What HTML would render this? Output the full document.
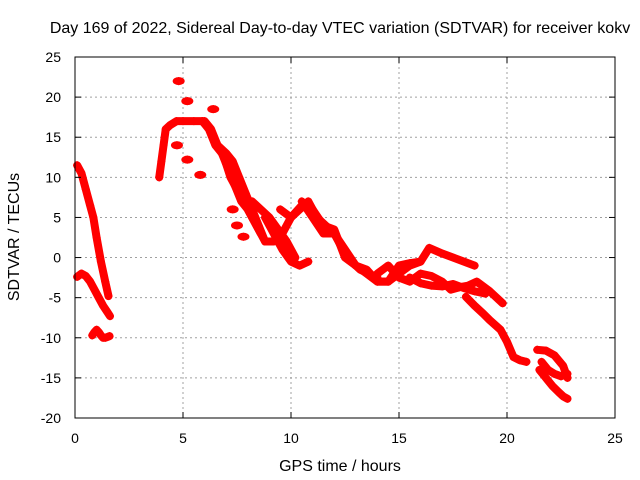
<!DOCTYPE html>
<html><head><meta charset="utf-8"><style>
body{margin:0;background:#fff;}
svg{display:block;font-family:"Liberation Sans",sans-serif;}
</style></head><body>
<svg id="chart" width="640" height="480">
<text x="340" y="33" text-anchor="middle" font-size="16">Day 169 of 2022, Sidereal Day-to-day VTEC variation (SDTVAR) for receiver kokv</text>
<text x="340" y="471" text-anchor="middle" font-size="16">GPS time / hours</text>
<text transform="translate(19,237) rotate(-90)" text-anchor="middle" font-size="16">SDTVAR / TECUs</text>
<g id="grid"></g><g id="marks"></g><g id="axes"></g>
</svg>
<script>
const xTicks=[0,5,10,15,20,25];
const yTicks=[-20,-15,-10,-5,0,5,10,15,20,25];
const tA=[0.1,0.3,0.5,0.7,0.85,1.0,1.2,1.4,1.55];
const vA=[11.5,10.5,8.5,6.5,5,2.5,-0.5,-3,-4.8];
const tB=[0.1,0.3,0.5,0.7,0.9,1.1,1.3,1.5,1.62];
const vB=[-2.4,-2,-2.3,-3,-4,-5,-6,-6.8,-7.3];
const tC=[0.8,0.9,1.0,1.1,1.2,1.3,1.4,1.5,1.6];
const vC=[-9.7,-9.3,-9,-9.3,-9.7,-10,-10,-9.9,-9.8];
const tD=[3.9,4.0,4.1,4.2,4.4,4.7,5.0,5.5,6.0,6.3,6.6,6.9,7.2,7.5,7.8,8.1,8.4,8.8,9.2,9.6,10.0,10.4,10.8,11.2,11.6,12.0,12.4,12.8,13.2,13.6,14.0];
const vD=[10,12,14,16,16.5,17,17,17,17,16,14,12.5,10,8.5,7,5.5,4,2,2,3,5,6,7,5,4,3,1,-0.5,-1.5,-2,-2.5];
const tE=[5.9,6.2,6.5,6.8,7.1,7.4,7.7,8.0,8.3,8.6];
const vE=[17,16,14,13,11,9,7,6,4.5,3];
const tF=[6.6,7.0,7.3,7.6,7.9,8.2,8.5,8.8];
const vF=[14,13,12,10,8,6,4,2];
const tG=[8.8,9.2,9.6,10,10.4,10.8];
const vG=[5,3,1,-0.5,-1,-0.5];
const tH=[9.5,10,10.5,11,11.5,12,12.5,13];
const vH=[6,5,6.5,6,4,3.5,0,-1];
const tI=[10.5,11,11.5,12,12.5,13,13.5,14,14.5,15,15.5,16];
const vI=[7,5,3,3,1,-1,-1.5,-3,-3,-2,-1,-0.5];
const tJ=[13,13.5,14,14.5,15,15.5,16,16.4,17,17.5,18.1,18.5];
const vJ=[-1,-2,-3,-3,-1,-0.7,-0.5,1.2,0.5,0,-0.6,-1];
const tK=[14,14.5,15,15.5,16,16.5,17,17.4,17.8,18.2,18.6,19.2,19.8];
const vK=[-2,-1,-2.5,-3,-2,-2.3,-3,-4,-3.7,-3.5,-3,-4.2,-5.7];
const tL=[18.1,18.5,18.9,19.2,19.7,20.0,20.3,20.6,20.9];
const vL=[-4.9,-6,-7,-7.8,-9,-10.5,-12.4,-12.8,-13];
const tM=[21.4,21.8,22.2,22.6,22.8];
const vM=[-11.5,-11.6,-12.2,-13.5,-15];
const tN=[21.5,21.8,22.1,22.4,22.6,22.8];
const vN=[-14,-15,-16,-16.8,-17.3,-17.6];
const tO=[15.5,16,16.5,17,17.5,18,18.5,19];
const vO=[-2.5,-3.2,-3.5,-3.6,-3.3,-3.8,-4.2,-4.5];
const tP=[21.6,21.9,22.2,22.5,22.8];
const vP=[-13,-14,-14.5,-14.8,-14.5];
const tQ=[8.2,8.6,9.0,9.4,9.8,10.2];
const vQ=[7,6,5,3.5,2,0];
const isoT=[4.8,5.2,4.72,5.8,5.2,6.4,7.3,7.5,7.8];
const isoV=[22,19.5,14,10.3,12.2,18.5,6,4,2.6];
const tracks=[[tA,vA],[tB,vB],[tC,vC],[tD,vD],[tE,vE],[tF,vF],[tG,vG],[tH,vH],[tI,vI],[tJ,vJ],[tK,vK],[tL,vL],[tM,vM],[tN,vN],[tO,vO],[tP,vP],[tQ,vQ]];
const X0=75,X1=615,Y0=418,Y1=57;
const sx=t=>X0+(t-0)/(25-0)*(X1-X0);
const sy=v=>Y0-(v+20)/45*(Y0-Y1);
const NS='http://www.w3.org/2000/svg';
function mk(tag,attrs,parent){const e=document.createElementNS(NS,tag);for(const k in attrs)e.setAttribute(k,attrs[k]);parent.appendChild(e);return e;}
const grid=document.getElementById('grid'),marks=document.getElementById('marks'),axes=document.getElementById('axes');
xTicks.forEach(t=>{
 if(t>0&&t<25){const g=mk('line',{x1:sx(t),x2:sx(t),y1:Y1,y2:Y0,stroke:'#a0a0a0','stroke-dasharray':'2,3'},grid);
 
 }
 mk('line',{x1:sx(t),x2:sx(t),y1:Y0,y2:Y0-6,stroke:'#000'},axes);
 mk('line',{x1:sx(t),x2:sx(t),y1:Y1,y2:Y1+6,stroke:'#000'},axes);
 const l=mk('text',{x:sx(t),y:443,'text-anchor':'middle','font-size':14},axes);l.textContent=t;
 
 
});
yTicks.forEach(v=>{
 if(v>-20&&v<25){const g=mk('line',{x1:X0,x2:X1,y1:sy(v),y2:sy(v),stroke:'#a0a0a0','stroke-dasharray':'2,3'},grid);
 
 }
 mk('line',{x1:X0,x2:X0+6,y1:sy(v),y2:sy(v),stroke:'#000'},axes);
 mk('line',{x1:X1,x2:X1-6,y1:sy(v),y2:sy(v),stroke:'#000'},axes);
 const l=mk('text',{x:61,y:sy(v)+5,'text-anchor':'end','font-size':14},axes);l.textContent=v;
 
 
});
const fr=mk('rect',{x:X0,y:Y1,width:X1-X0,height:Y0-Y1,fill:'none',stroke:'#000'},axes);


function plus(x,y){mk('path',{d:`M${x-4},${y}h8M${x},${y-4}v8`,stroke:'#f00','stroke-width':1.3},marks);}
tracks.forEach(([ts,vs])=>{
 const p=mk('polyline',{points:ts.map((t,i)=>sx(t)+','+sy(vs[i])).join(' '),fill:'none',stroke:'#f00','stroke-width':8,'stroke-linejoin':'round','stroke-linecap':'round'},marks);
 
 
 ts.forEach((t,i)=>plus(sx(t),sy(vs[i])));
});
isoT.forEach((t,i)=>{const c=mk('ellipse',{cx:sx(t),cy:sy(isoV[i]),rx:6,ry:4,fill:'#f00'},marks);
 
 
 plus(sx(t),sy(isoV[i]));});
</script>
</body></html>
